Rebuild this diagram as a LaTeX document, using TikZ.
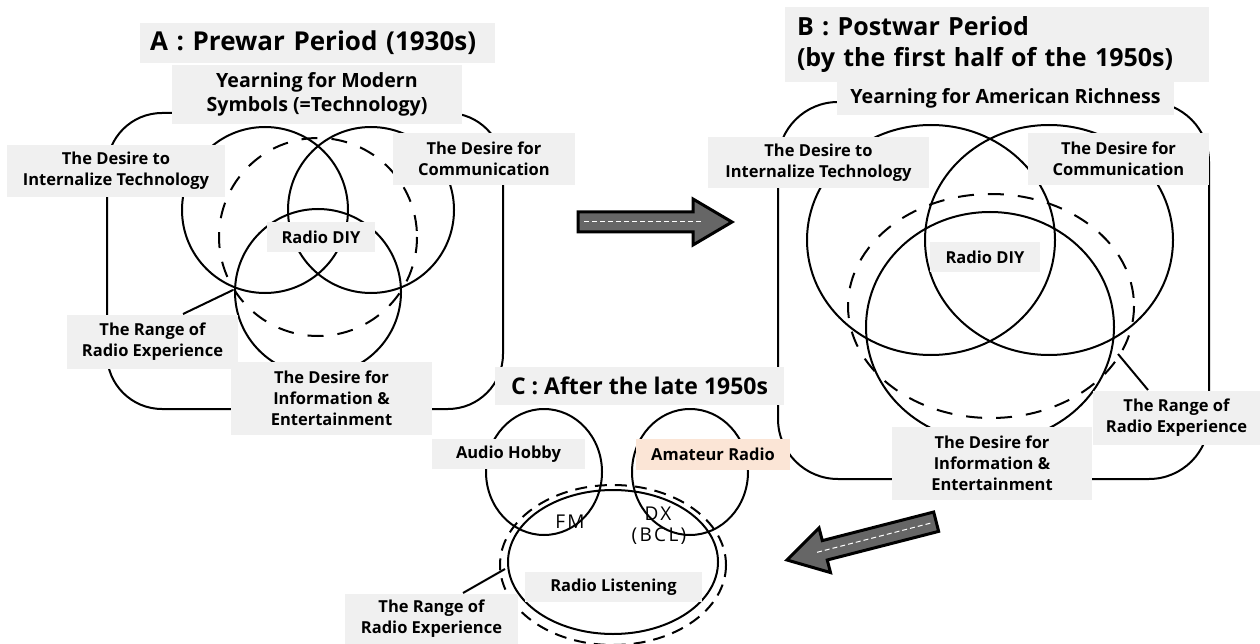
\documentclass[tikz,border=0pt]{standalone}
\usepackage{fontspec}
\setmainfont{Open Sans}
\newfontfamily\scanfont[LetterSpace=12]{Open Sans}
\definecolor{boxgray}{RGB}{240,240,240}
\definecolor{peach}{RGB}{251,229,214}
\tikzset{
  fatarrow/.pic={
    \draw[line width=3pt, line join=miter, fill=black!60]
      (0,0) -- (-39,-23) -- (-39,-10) -- (-154,-10) -- (-154,10)
      -- (-39,10) -- (-39,23) -- cycle;
    \draw[white, line width=1pt, dash pattern=on 5pt off 3pt]
      (-148,0) -- (-30,0);
  }
}

\begin{document}
\begin{tikzpicture}[x=1pt,y=-1pt, line width=2pt,
  lbl/.style={fill=boxgray, inner sep=0pt, align=center,
    font=\bfseries\fontsize{16.5}{21}\selectfont},
  yearn/.style={lbl, font=\bfseries\fontsize{19.6}{24}\selectfont},
  ttl/.style={lbl, font=\bfseries\fontsize{26}{31}\selectfont},
  dashring/.style={dash pattern=on 16pt off 14pt},
  scan/.style={inner sep=0pt, font=\scanfont\fontsize{19}{21}\selectfont}]

  \fill[white] (0,0) rectangle (1260,644);
  \useasboundingbox (0,0) rectangle (1260,644);

  % A : prewar
  \draw[rounded corners=55pt] (107,113) rectangle (503,409);
  \draw (265,210) circle [radius=83];
  \draw (371,210) circle [radius=83];
  \draw (318,292) circle [radius=83];
  \draw[dashring] (318,237) circle [radius=99];
  \coordinate (pA) at (233,290);

  % B : postwar
  \draw[rounded corners=60pt] (778,102) rectangle (1209,479);
  \draw (931,240) ellipse [x radius=124, y radius=115];
  \draw (1049,240) ellipse [x radius=124, y radius=115];
  \draw (990,327) ellipse [x radius=124, y radius=115];
  \draw[dashring] (991,306) ellipse [x radius=143, y radius=112];
  \coordinate (pB) at (1118,354);

  % C : after the late 1950s
  \draw (544,472) ellipse [x radius=58, y radius=63];
  \draw (690,472) ellipse [x radius=58, y radius=63];
  \draw (613,562) ellipse [x radius=105, y radius=72];
  \draw[dash pattern=on 12pt off 8pt] (613,565) ellipse [x radius=113, y radius=80];
  \coordinate (pC) at (505,569);

  % labels A
  \node[ttl, minimum width=355, minimum height=40, text width=335, align=left]
    (tA) at (317.5,43) {A : Prewar Period (1930s)};
  \node[yearn, minimum width=290, minimum height=59] (yA) at (317,94.5)
    {Yearning for Modern\\Symbols (=Technology)};
  \node[lbl, minimum width=218, minimum height=52] (iA) at (116,171)
    {The Desire to\\Internalize Technology};
  \node[lbl, minimum width=182, minimum height=52] (cA) at (484,159)
    {The Desire for\\Communication};
  \node[lbl, minimum width=108, minimum height=30] (dA) at (321,237) {Radio DIY};
  \node[lbl, minimum width=171, minimum height=54] (rA) at (152.5,342)
    {The Range of\\Radio Experience};
  \node[lbl, minimum width=201, minimum height=73] (eA) at (331.5,398.5)
    {The Desire for\\Information \&\\Entertainment};
  \draw ([xshift=30.5pt]rA.north) -- (pA);

  % labels B
  \node[ttl, font=\bfseries\fontsize{25}{31}\selectfont,
    minimum width=424, minimum height=75, text width=400, align=left]
    (tB) at (997,44.5) {B : Postwar Period\\(by the first half of the 1950s)};
  \node[yearn, minimum width=337, minimum height=33] (yB) at (1005.5,98.5)
    {Yearning for American Richness};
  \node[lbl, minimum width=221, minimum height=51] (iB) at (818.5,162.5)
    {The Desire to\\Internalize Technology};
  \node[lbl, minimum width=181, minimum height=52] (cB) at (1118.5,159)
    {The Desire for\\Communication};
  \node[lbl, minimum width=110, minimum height=30] (dB) at (985,257) {Radio DIY};
  \node[lbl, minimum width=200, minimum height=73] (eB) at (992,463.5)
    {The Desire for\\Information \&\\Entertainment};
  \node[lbl, minimum width=167, minimum height=54] (rB) at (1176.5,418)
    {The Range of\\Radio Experience};
  \draw ([xshift=-28.5pt]rB.north) -- (pB);

  % labels C
  \node[ttl, font=\bfseries\fontsize{23}{28}\selectfont,
    minimum width=289, minimum height=38] (tC) at (639.5,386)
    {C : After the late 1950s};
  \node[lbl, minimum width=153, minimum height=30] (hC) at (508.5,454) {Audio Hobby};
  \node[lbl, fill=peach, minimum width=154, minimum height=31] (aC) at (713,454.5)
    {Amateur Radio};
  \node[lbl, minimum width=177, minimum height=30] (lC) at (613.5,587)
    {Radio Listening};
  \node[lbl, minimum width=173, minimum height=50] (rC) at (431.5,619)
    {The Range of\\Radio Experience};
  \draw ([xshift=31.5pt]rC.north) -- (pC);
  \node[scan] (fm) at (570,522) {FM};
  \node[scan] (dx) at (658,514) {DX};
  \node[scan] (bcl) at (659,536) {(BCL)};

  % transitions
  \pic at (732,222) {fatarrow};
  \pic[rotate=194.4] at (787,560) {fatarrow};
\end{tikzpicture}
\end{document}
